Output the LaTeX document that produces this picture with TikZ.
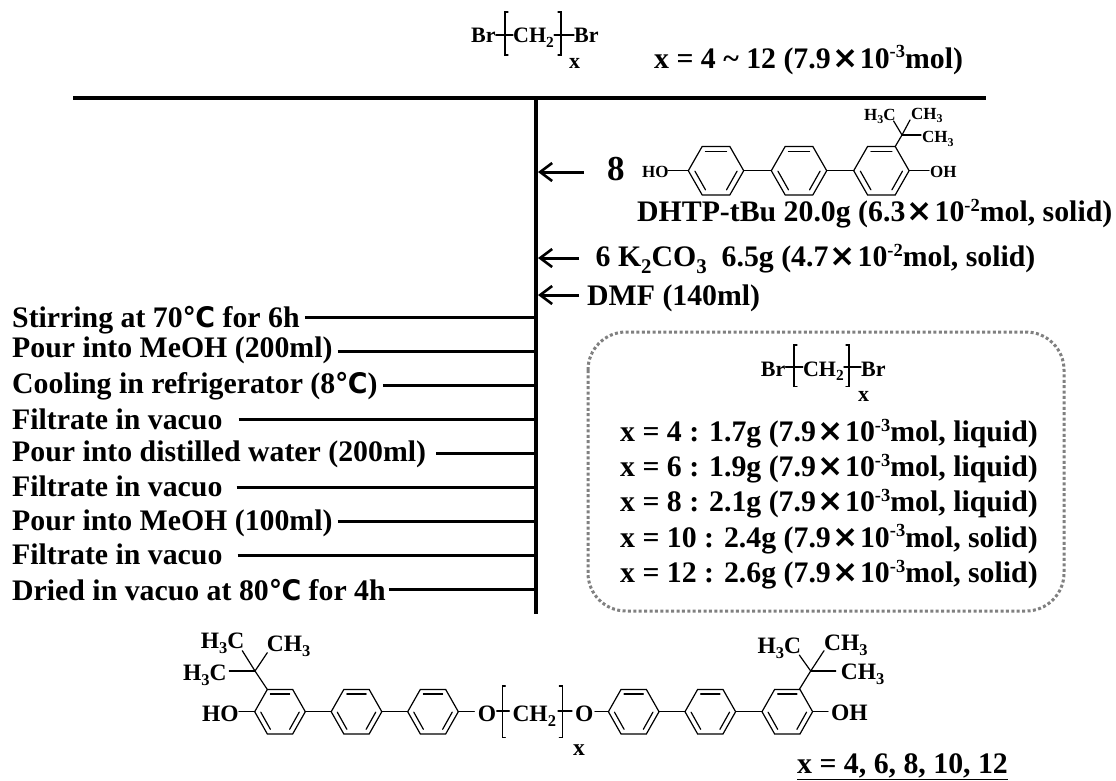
\documentclass[tikz,border=0pt]{standalone}
\usepackage{fontspec}
\usetikzlibrary{arrows.meta}
\setmainfont{Liberation Serif}
\newfontfamily\symfont{DejaVu Sans}
\newcommand{\tms}{\kern1.5pt{\symfont\bfseries\scalebox{1.05}{×}}\kern1.5pt}
\newcommand{\dgc}{{\symfont\bfseries\scalebox{0.9}[0.95]{℃}}}
\newcommand{\sbs}[1]{\raisebox{-.22em}{\scalebox{.7}{#1}}}
\newcommand{\sps}[1]{\raisebox{.34em}{\scalebox{.62}{#1}}}
\newcommand{\hexring}[4]{%
 \begin{scope}[shift={(#1,#2)},x=#3pt,y=#4pt,bond]
  \draw (-1,0)--(-.5,1)--(.5,1)--(1,0)--(.5,-1)--(-.5,-1)--cycle;
  \draw (-.38,.79)--(.38,.79);
  \draw (-.76,-.02)--(-.38,-.79);
  \draw (.76,-.02)--(.38,-.79);
 \end{scope}}
\tikzset{
 bond/.style={line width=1.2pt,black,line cap=round},
 mainline/.style={line width=3.4pt,black},
 stub/.style={line width=3pt,black},
 arr/.style={line width=3pt,black,-{Straight Barb[length=12pt,width=18pt,line width=2.6pt]}},
 big/.style={font=\fontsize{29.8}{30}\selectfont\bfseries,inner sep=0pt,anchor=base west},
 med/.style={font=\fontsize{22}{22}\selectfont\bfseries,inner sep=0pt,anchor=base west},
 small/.style={font=\fontsize{17}{17}\selectfont\bfseries,inner sep=0pt,anchor=base west},
 chem/.style={font=\fontsize{23.5}{24}\selectfont\bfseries,inner sep=0pt,anchor=base west},
 frame/.style={draw=gray,line width=3pt,dash pattern=on 3pt off 2.4pt,rounded corners=38pt},
}
\begin{document}
\begin{tikzpicture}[x=1pt,y=-1pt]
\useasboundingbox (0,0) rectangle (1116,780);
\fill[white] (0,0) rectangle (1116,780);
% main lines
\coordinate (hl) at (73,98); \coordinate (hr) at (986,98);
\coordinate (spine) at (536,98); \coordinate (spineb) at (536,614);
\draw[mainline] (hl)--(hr);
\draw[mainline] (spine)--(spineb);

% top reagent
\node[med] (br1) at (471,42.7) {Br};
\node[med] (ch1) at (513,42.7) {CH\sbs{2}};
\node[med] (br2) at (574,42.7) {Br};
\node[med] (x1) at (569,68) {x};
\draw[bond] (br1.east |- 0,35) -- (ch1.west |- 0,35);
\draw[bond] (ch1.east |- 0,35) -- (br2.west |- 0,35);
\draw[bond] (508,12)--(505,12)--(505,55)--(508,55);
\draw[bond] (558,12)--(561,12)--(561,55)--(558,55);
\node[big] (top) at (654,68) {x = 4 \textasciitilde{} 12 (7.9\tms 10\sps{-3}mol)};

% DHTP
\node[big,font=\fontsize{35}{35}\selectfont\bfseries] (n8) at (607,180) {8};
\coordinate (a1) at (538,172);
\draw[arr] (584,172) -- (a1);
\hexring{716}{170.7}{27.7}{24.2}
\hexring{799}{170.7}{27.7}{24.2}
\hexring{881.4}{170.7}{27.7}{24.2}
\draw[bond] (743.7,170.7)--(771.3,170.7);
\draw[bond] (826.7,170.7)--(853.7,170.7);
\node[small] (ho1) at (642,177.7) {HO};
\draw[bond] (668,170.7)--(688.3,170.7);
\node[small] (oh1) at (930,177.7) {OH};
\draw[bond] (909.1,170.7)--(929,170.7);
\node[small] (m1) at (864,120) {H\sbs{3}C};
\node[small] (m2) at (911,119) {CH\sbs{3}};
\node[small] (m3) at (922,142.7) {CH\sbs{3}};
\draw[bond] (895.2,146.5)--(902,135);
\draw[bond] (902,135)--(893.6,121);
\draw[bond] (902,135)--(910,120);
\draw[bond] (902,135)--(921,135);
\node[big] (dhtp) at (637,221.7) {DHTP-tBu 20.0g (6.3\tms 10\sps{-2}mol, solid)};

\draw[arr] (579,258) -- (538,258);
\node[big] (k) at (595.5,266.7) {6 K\sbs{2}CO\sbs{3}\ \ 6.5g (4.7\tms 10\sps{-2}mol, solid)};
\draw[arr] (579,295) -- (538,295);
\node[big] (dmf) at (587,305) {DMF (140ml)};

% steps
\node[big] (s1) at (12,327.7) {Stirring at 70\dgc{} for 6h};
\node[big] (s2) at (12,357.7) {Pour into MeOH (200ml)};
\node[big] (s3) at (12,393.3) {Cooling in refrigerator (8\dgc{})};
\node[big] (s4) at (12,429.3) {Filtrate in vacuo};
\node[big] (s5) at (12,461.7) {Pour into distilled water (200ml)};
\node[big] (s6) at (12,496.7) {Filtrate in vacuo};
\node[big] (s7) at (12,530) {Pour into MeOH (100ml)};
\node[big] (s8) at (12,564.3) {Filtrate in vacuo};
\node[big] (s9) at (12,600) {Dried in vacuo at 80\dgc{} for 4h};
\foreach \n/\y/\g in {s1/317.5/5,s2/351.5/5,s3/385.5/5,s4/419.5/16,s5/453.5/10,s6/487.5/14,s7/521.5/5,s8/555.5/15,s9/589.5/3}{
  \draw[stub,shorten <=\g pt] (\n.east |- 0,\y) -- (spine |- 0,\y);
}

% box
\draw[frame] (588,332) rectangle (1064,611);
\node[med] (br3) at (760.7,376) {Br};
\node[med] (ch3) at (802.8,376) {CH\sbs{2}};
\node[med] (br4) at (861,376) {Br};
\node[med] (x3) at (858,401) {x};
\draw[bond] (br3.east |- 0,367) -- (ch3.west |- 0,367);
\draw[bond] (ch3.east |- 0,367) -- (br4.west |- 0,367);
\draw[bond] (797,345)--(794,345)--(794,386.7)--(797,386.7);
\draw[bond] (846,345)--(849,345)--(849,386.7)--(846,386.7);
\node[big] (b1) at (620,441.5) {x = 4 : 1.7g (7.9\tms 10\sps{-3}mol, liquid)};
\node[big] (b2) at (620,476.5) {x = 6 : 1.9g (7.9\tms 10\sps{-3}mol, liquid)};
\node[big] (b3) at (620,511.5) {x = 8 : 2.1g (7.9\tms 10\sps{-3}mol, liquid)};
\node[big] (b4) at (620,547) {x = 10 : 2.4g (7.9\tms 10\sps{-3}mol, solid)};
\node[big] (b5) at (620,582.5) {x = 12 : 2.6g (7.9\tms 10\sps{-3}mol, solid)};

% product
\foreach \c in {280,356.5,433,633.7,710.3,787.3}{\hexring{\c}{711.7}{25.3}{22.3}}
\foreach \a/\b in {305.3/331.2,381.8/407.7,659/685,735.6/762}{\draw[bond] (\a,711.7)--(\b,711.7);}
\node[chem] (p1) at (200.7,648) {H\sbs{3}C};
\node[chem] (p2) at (266.7,651.7) {CH\sbs{3}};
\node[chem] (p3) at (183,680) {H\sbs{3}C};
\node[chem] (p4) at (202,721) {HO};
\draw[bond] (239,711.7)--(254.7,711.7);
\draw[bond] (267.3,689.4)--(255,671)--(242.3,650.7);
\draw[bond] (255,671)--(267.3,652.7);
\draw[bond] (229.3,671)--(255,671);
\node[chem] (po1) at (477.7,721) {O};
\draw[bond] (458.3,711.7)--(474.3,711.7);
\draw[bond] (496.7,711)--(509.3,711);
\node[chem] (pc) at (512.3,721) {CH\sbs{2}};
\draw[bond] (558,711)--(572,711);
\draw[bond] (505.3,686)--(502.3,686)--(502.3,737.7)--(505.3,737.7);
\draw[bond] (559.3,686)--(562.3,686)--(562.3,737.7)--(559.3,737.7);
\node[chem] (px) at (573,755.7) {x};
\node[chem] (po2) at (575,721) {O};
\draw[bond] (595,711.7)--(608.4,711.7);
\node[chem] (q1) at (757.3,653.3) {H\sbs{3}C};
\node[chem] (q2) at (824,650) {CH\sbs{3}};
\node[chem] (q3) at (840.7,679.3) {CH\sbs{3}};
\node[chem] (q4) at (831,720) {OH};
\draw[bond] (812.6,711.7)--(828,711.7);
\draw[bond] (799.3,689.4)--(810.7,671)--(799.3,655);
\draw[bond] (810.7,671)--(824,650.7);
\draw[bond] (810.7,671)--(835.7,671);
\node[big] (res) at (797,773) {\underline{x = 4, 6, 8, 10, 12}};
\end{tikzpicture}
\end{document}
